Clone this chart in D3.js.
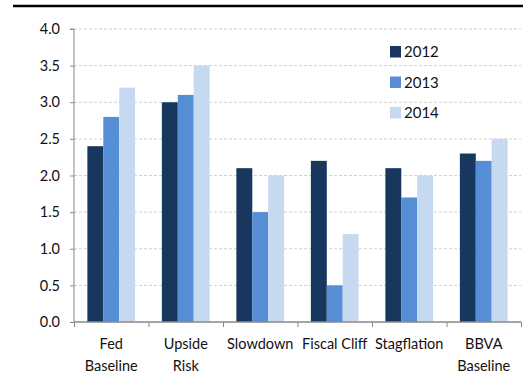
<!DOCTYPE html>
<html><head><meta charset="utf-8">
<script src="https://cdn.jsdelivr.net/npm/d3@7"></script>
<style>body{margin:0;background:#fff;}svg{display:block;font-family:Lato, "Open Sans", sans-serif;}</style>
</head><body>
<svg id="c" width="523" height="391"></svg>
<script>
const categories = [["Fed","Baseline"],["Upside","Risk"],["Slowdown"],["Fiscal Cliff"],["Stagflation"],["BBVA","Baseline"]];
const seriesNames = ["2012","2013","2014"];
const v2012 = [2.4, 3.0, 2.1, 2.2, 2.1, 2.3];
const v2013 = [2.8, 3.1, 1.5, 0.5, 1.7, 2.2];
const v2014 = [3.2, 3.5, 2.0, 1.2, 2.0, 2.5];
const colors = ["#17375E", "#558ED5", "#C6D9F1"];
const yTicks = [0,0.5,1,1.5,2,2.5,3,3.5,4];

(function(){
const series = [v2012, v2013, v2014];
const svg = d3.select("#c");
const mLeft = 74, mRight = 521, mTop = 29, mBottom = 322;

// top rule
svg.append("line").attr("x1",13).attr("x2",523).attr("y1",6).attr("y2",6).attr("stroke","#000").attr("stroke-width",2.5);

const x = d3.scaleBand().domain(d3.range(categories.length)).range([mLeft,mRight]).paddingInner(0).paddingOuter(0);
const x1 = d3.scaleBand().domain(d3.range(3)).range([0, x.bandwidth()]).paddingOuter(0.84).paddingInner(0);
const y = d3.scaleLinear().domain([0,4]).range([mBottom, mTop]);

// grid
svg.append("g").selectAll("line").data(yTicks.filter(d=>d>0)).join("line")
  .attr("x1",mLeft).attr("x2",mRight).attr("y1",d=>y(d)).attr("y2",d=>y(d))
  .attr("stroke","#d0d0d0").attr("stroke-dasharray","3,2").attr("stroke-width",1);

// bars
const g = svg.append("g");
series.forEach((s,si)=>{
  g.selectAll(null).data(s).join("rect")
    .attr("x",(d,i)=>x(i)+x1(si))
    .attr("width",x1.bandwidth())
    .attr("y",d=>y(d))
    .attr("height",d=>y(0)-y(d))
    .attr("fill",colors[si]);
});

// y axis
const yAxis = d3.axisLeft(y).tickValues(yTicks).tickFormat(d3.format(".1f")).tickSize(4).tickPadding(10);
const ya = svg.append("g").attr("transform",`translate(${mLeft},0)`).call(yAxis);
ya.select(".domain").attr("stroke","#888").attr("d",`M-4,${mTop}H0V${mBottom}`);
ya.selectAll(".tick line").attr("stroke","#888");
ya.selectAll(".tick text").attr("font-size",14.5).attr("fill","#111").attr("font-family","Lato");

// x axis
const xs = d3.scaleLinear().domain([0,categories.length]).range([mLeft,mRight]);
const xAxis = d3.axisBottom(xs).tickValues(d3.range(categories.length+1)).tickSize(5).tickFormat("");
const xa = svg.append("g").attr("transform",`translate(0,${mBottom})`).call(xAxis);
xa.select(".domain").attr("stroke","#888").attr("stroke-width",1.5).attr("d",`M${mLeft},0H${mRight}`);
xa.selectAll(".tick line").attr("stroke","#888");

// category labels
const lab = svg.append("g");
categories.forEach((c,i)=>{
  const t = lab.append("text").attr("x",x(i)+x.bandwidth()/2).attr("text-anchor","middle")
    .attr("font-size",14.5).attr("fill","#111");
  c.forEach((line,li)=>{
    t.append("tspan").attr("x",x(i)+x.bandwidth()/2).attr("y",349+li*22).text(line);
  });
});

// legend
const lg = svg.append("g");
seriesNames.forEach((n,i)=>{
  lg.append("rect").attr("x",390).attr("y",46+i*30.5).attr("width",11).attr("height",11.5).attr("fill",colors[i]);
  lg.append("text").attr("x",404).attr("y",57+i*30.5).attr("font-size",15).attr("fill","#111").text(n);
});
})();
</script>
</body></html>
